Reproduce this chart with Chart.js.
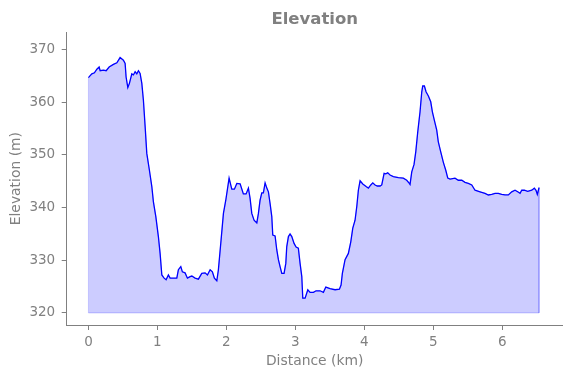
<!DOCTYPE html>
<html>
<head>
<meta charset="utf-8">
<script src="https://cdn.jsdelivr.net/npm/chart.js@4/dist/chart.umd.min.js"></script>
<style>
  html, body { margin: 0; padding: 0; background: #fff; }
  #c { display: block; }
</style>
</head>
<body>
<canvas id="c" width="571" height="378"></canvas>
<script>
// Distance along the route (km)
const distanceKm = [
  0.000, 0.049, 0.087, 0.122, 0.155, 0.170, 0.217, 0.257, 0.300, 0.362,
  0.412, 0.459, 0.507, 0.532, 0.546, 0.571, 0.594, 0.629, 0.652, 0.677,
  0.701, 0.725, 0.749, 0.774, 0.797, 0.822, 0.846, 0.884, 0.919, 0.942,
  0.977, 1.014, 1.039, 1.064, 1.097, 1.126, 1.159, 1.184, 1.257, 1.281,
  1.304, 1.339, 1.362, 1.401, 1.435, 1.474, 1.499, 1.546, 1.594, 1.643,
  1.691, 1.725, 1.764, 1.797, 1.826, 1.861, 1.884, 1.923, 1.957, 1.991,
  2.039, 2.078, 2.116, 2.151, 2.199, 2.246, 2.286, 2.319, 2.343, 2.368,
  2.401, 2.441, 2.464, 2.488, 2.513, 2.536, 2.561, 2.586, 2.609, 2.633,
  2.658, 2.672, 2.706, 2.730, 2.754, 2.778, 2.803, 2.836, 2.861, 2.875,
  2.899, 2.923, 2.948, 2.981, 3.010, 3.043, 3.068, 3.093, 3.107, 3.141,
  3.180, 3.213, 3.261, 3.300, 3.358, 3.406, 3.441, 3.503, 3.575, 3.638,
  3.662, 3.681, 3.720, 3.768, 3.803, 3.832, 3.865, 3.890, 3.913, 3.938,
  3.977, 4.025, 4.058, 4.093, 4.122, 4.155, 4.188, 4.228, 4.252, 4.286,
  4.310, 4.339, 4.372, 4.420, 4.493, 4.565, 4.614, 4.652, 4.662, 4.687,
  4.720, 4.745, 4.774, 4.807, 4.832, 4.846, 4.870, 4.894, 4.928, 4.962,
  4.986, 5.014, 5.049, 5.072, 5.107, 5.145, 5.180, 5.209, 5.242, 5.314,
  5.362, 5.412, 5.459, 5.507, 5.557, 5.604, 5.677, 5.749, 5.797, 5.846,
  5.894, 5.942, 5.991, 6.039, 6.087, 6.136, 6.184, 6.223, 6.257, 6.281,
  6.319, 6.368, 6.426, 6.464, 6.488, 6.507, 6.532
];

// Elevation (m)
const elevationM = [
  364.7, 365.4, 365.6, 366.3, 366.7, 366.0, 366.1, 366.0, 366.7, 367.2,
  367.5, 368.5, 368.0, 367.4, 364.8, 362.8, 363.6, 365.4, 365.2, 365.8,
  365.4, 366.0, 365.5, 363.6, 360.4, 355.4, 350.3, 347.1, 344.0, 341.1,
  338.3, 334.5, 331.3, 327.2, 326.6, 326.3, 327.2, 326.6, 326.6, 326.6,
  328.2, 328.8, 327.8, 327.6, 326.6, 326.9, 327.0, 326.6, 326.4, 327.5,
  327.6, 327.2, 328.2, 327.8, 326.6, 326.1, 328.2, 333.9, 338.9, 341.4,
  345.6, 343.5, 343.5, 344.6, 344.5, 342.6, 342.6, 343.7, 341.8, 338.9,
  337.6, 337.1, 338.9, 341.4, 342.8, 342.8, 344.7, 343.7, 343.0, 340.8,
  338.3, 334.8, 334.6, 332.0, 330.1, 328.8, 327.5, 327.5, 329.4, 332.6,
  334.5, 335.0, 334.5, 333.2, 332.5, 332.3, 329.4, 326.9, 322.8, 322.8,
  324.4, 323.9, 323.9, 324.2, 324.2, 323.9, 324.9, 324.6, 324.4, 324.5,
  325.3, 327.5, 330.1, 331.3, 333.5, 336.1, 337.6, 340.2, 343.3, 345.1,
  344.5, 344.0, 343.7, 344.3, 344.7, 344.3, 344.1, 344.1, 344.3, 346.5,
  346.4, 346.6, 346.2, 345.9, 345.7, 345.6, 345.2, 344.6, 344.4, 346.8,
  348.2, 350.6, 354.4, 358.2, 362.0, 363.1, 363.1, 362.0, 361.2, 360.1,
  358.2, 356.6, 354.7, 352.5, 350.6, 348.6, 347.1, 345.6, 345.4, 345.6,
  345.2, 345.2, 344.8, 344.6, 344.3, 343.3, 343.0, 342.7, 342.4, 342.5,
  342.7, 342.7, 342.5, 342.4, 342.4, 343.0, 343.3, 343.0, 342.7, 343.3,
  343.3, 343.1, 343.3, 343.7, 343.3, 342.5, 343.8
];

const xTickValues = [0, 1, 2, 3, 4, 5, 6];
const yTickValues = [320, 330, 340, 350, 360, 370];
const fillBase = 320;

const profile = distanceKm.map((d, i) => ({ x: d, y: elevationM[i] }));
const outline = [{ x: distanceKm[0], y: fillBase }]
  .concat(profile)
  .concat([{ x: distanceKm[distanceKm.length - 1], y: fillBase }, { x: distanceKm[0], y: fillBase }]);

const GREY = '#808080';
const FONT = 'DejaVu Sans';

new Chart(document.getElementById('c'), {
  type: 'line',
  data: {
    datasets: [
      {
        data: profile,
        borderWidth: 0,
        borderColor: 'rgba(0,0,0,0)',
        backgroundColor: 'rgba(0,0,255,0.2)',
        fill: { value: fillBase },
        pointRadius: 0,
        tension: 0,
        order: 3
      },
      {
        data: outline,
        borderColor: 'rgba(0,0,255,0.2)',
        borderWidth: 1,
        fill: false,
        pointRadius: 0,
        tension: 0,
        order: 2
      },
      {
        data: profile,
        borderColor: '#0000ff',
        borderWidth: 1.3,
        fill: false,
        pointRadius: 0,
        tension: 0,
        order: 1
      }
    ]
  },
  options: {
    responsive: false,
    animation: false,
    devicePixelRatio: 1,
    layout: { padding: { left: 0, right: 8.3, top: 0, bottom: 0 } },
    plugins: {
      legend: { display: false },
      tooltip: { enabled: false },
      filler: { propagate: false },
      title: {
        display: true,
        text: 'Elevation',
        color: GREY,
        fullSize: false,
        font: { family: FONT, size: 16.5, weight: 'bold', lineHeight: 1.2 },
        padding: { top: 9.6, bottom: 2.9 }
      }
    },
    scales: {
      x: {
        type: 'linear',
        min: -0.315,
        max: 6.875,
        afterFit: (s) => { s.height = 53; },
        afterBuildTicks: (s) => { s.ticks = xTickValues.map(v => ({ value: v })); },
        grid: { display: true, drawOnChartArea: false, drawTicks: true, tickLength: 5, tickColor: GREY, tickWidth: 1 },
        border: { display: true, color: GREY, width: 1 },
        ticks: { color: GREY, font: { family: FONT, size: 13.5 }, padding: 4, maxRotation: 0, autoSkip: false,
                 callback: (v) => String(v) },
        title: { display: true, text: 'Distance (km)', color: GREY,
                 font: { family: FONT, size: 13.9, lineHeight: 1.2 }, padding: { top: 0, bottom: 8.7 } }
      },
      y: {
        type: 'linear',
        min: 317.7,
        max: 373.3,
        afterFit: (s) => { s.width = 66.7; },
        afterBuildTicks: (s) => { s.ticks = yTickValues.map(v => ({ value: v })); },
        grid: { display: true, drawOnChartArea: false, drawTicks: true, tickLength: 5, tickColor: GREY, tickWidth: 1 },
        border: { display: true, color: GREY, width: 1 },
        ticks: { color: GREY, font: { family: FONT, size: 13.5 }, padding: 6.5, autoSkip: false,
                 callback: (v) => String(v) },
        title: { display: true, text: 'Elevation (m)', color: GREY,
                 font: { family: FONT, size: 13.9, lineHeight: 1.2 }, padding: { top: 7.7, bottom: 0 } }
      }
    }
  }
});
</script>
</body>
</html>
